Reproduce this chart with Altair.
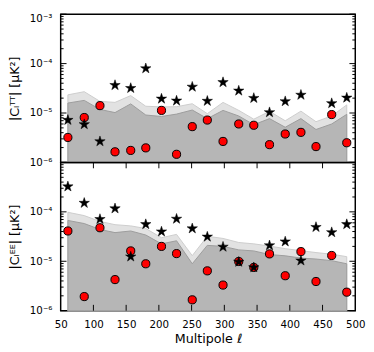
import altair as alt
import pandas as pd

# ---------------- data ----------------
ell = [61, 86, 110, 133, 157, 180, 204, 227, 251, 274, 298, 322, 345, 369, 393, 417, 440, 464, 487]

tt_obs = [3.2e-6, 8.1e-6, 1.41e-5, 1.64e-6, 1.75e-6, 1.97e-6, 1.13e-5, 1.46e-6, 5.3e-6, 7.2e-6,
          2.66e-6, 6.0e-6, 5.65e-6, 2.29e-6, 3.76e-6, 4.06e-6, 2.09e-6, 9.3e-6, 2.5e-6]
tt_model = [7.2e-6, 5.9e-6, 2.66e-6, 3.65e-5, 3.18e-5, 7.97e-5, 1.94e-5, 1.77e-5, 3.38e-5, 1.75e-5,
            4.18e-5, 2.82e-5, 2.0e-5, 1.03e-5, 1.72e-5, 2.32e-5, None, 1.57e-5, 2.03e-5]
tt_band_outer = [2.33e-5, 2.70e-5, 1.72e-5, 1.64e-5, 2.25e-5, 1.37e-5, 1.33e-5, 1.34e-5, 1.54e-5, 9.7e-6,
                 1.64e-5, 1.13e-5, 7.5e-6, 1.08e-5, 6.97e-6, 1.09e-5, 6.67e-6, 8.7e-6, 1.46e-5]
tt_band_inner = [1.59e-5, 1.80e-5, 1.18e-5, 1.02e-5, 1.53e-5, 9.1e-6, 8.5e-6, 9.5e-6, 1.15e-5, 7.7e-6,
                 1.13e-5, 8.7e-6, 5.8e-6, 7.7e-6, 5.15e-6, 7.7e-6, 4.64e-6, 6.0e-6, 9.4e-6]

ee_obs = [4.1e-5, 1.93e-6, 4.77e-5, 4.26e-6, 1.62e-5, 8.9e-6, 2.0e-5, 1.43e-5, 1.66e-6, 6.4e-6,
          3.3e-6, 9.9e-6, 7.5e-6, 1.41e-5, 5.1e-6, 1.57e-5, 3.9e-6, 1.31e-5, 2.37e-6]
ee_model = [3.25e-4, 1.51e-4, 7.1e-5, 1.17e-4, 1.24e-5, 5.6e-5, 3.98e-5, 7.2e-5, 4.6e-5, 3.13e-5,
            1.96e-5, 9.7e-6, 7.5e-6, 2.09e-5, 2.5e-5, 1.03e-5, 4.9e-5, 3.85e-5, 5.6e-5]
ee_band_outer = [9.8e-5, 8.4e-5, 6.4e-5, 5.5e-5, 5.2e-5, 4.6e-5, 3.0e-5, 3.5e-5, 1.3e-5, 3.2e-5,
                 2.9e-5, 2.4e-5, 2.25e-5, 2.03e-5, 1.8e-5, 1.64e-5, 1.5e-5, 1.39e-5, 1.24e-5]
ee_band_inner = [6.7e-5, 5.8e-5, 4.4e-5, 3.8e-5, 4.1e-5, 3.4e-5, 2.25e-5, 2.6e-5, 8.9e-6, 2.1e-5,
                 2.0e-5, 1.7e-5, 1.62e-5, 1.37e-5, 1.29e-5, 1.16e-5, 1.11e-5, 1.03e-5, 8.9e-6]

y_floor = 1e-6  # lower edge of the shaded bands (bottom of the log axis)

x_tick_values = [50, 100, 150, 200, 250, 300, 350, 400, 450, 500]
x_inner_ticks = [100, 150, 200, 250, 300, 350, 400, 450]
y_major = [1e-6, 1e-5, 1e-4, 1e-3]
y_minor = [m * 10.0 ** k for k in (-6, -5, -4) for m in range(2, 10)]

# ---------------- style ----------------
W, H = 302, 152
FONT = "DejaVu Sans"
STAR = ("M0,-1L0.2245,-0.309L0.9511,-0.309L0.3633,0.118L0.5878,0.809L0,0.382"
        "L-0.5878,0.809L-0.3633,0.118L-0.9511,-0.309L-0.2245,-0.309Z")
X_TITLE = "Multipole \u2113"


def panel(obs, model, outer, inner, ytitle, labels, top_flush, show_x):
    df = pd.DataFrame({"ell": ell, "obs": obs, "model": model, "outer": outer, "inner": inner,
                       "floor": [y_floor] * len(ell)})
    xscale = alt.Scale(domain=[50, 500], nice=False, zero=False)
    yscale = alt.Scale(type="log", domain=[1e-6, 1e-3], nice=False)
    if show_x:
        xaxis = alt.Axis(values=x_tick_values, ticks=False, tickSize=0, domain=False, grid=False,
                         labelFlush=False, labelOverlap=False, labelPadding=9, labelFontSize=10.5,
                         titleFontSize=13, titlePadding=3)
    else:
        xaxis = None
    lab_expr = "[" + ",".join("'%s'" % s for s in labels) + "][round(log(datum.value)/LN10)+6]"
    yaxis_kw = dict(values=y_major, labelExpr=lab_expr, ticks=False, tickSize=0, domain=False,
                    grid=False, labelOverlap=False, labelPadding=9, labelFontSize=10.5,
                    titleFontSize=13, titlePadding=8)
    if top_flush:
        yaxis_kw["labelBaseline"] = {"condition": {"test": "datum.value > 0.0005", "value": "top"},
                                     "value": "middle"}
    yaxis = alt.Axis(**yaxis_kw)

    def X(f):
        return alt.X(f, type="quantitative", scale=xscale, axis=xaxis, title=X_TITLE)

    def Y(f):
        return alt.Y(f, type="quantitative", scale=yscale, axis=yaxis, title=ytitle)

    base = alt.Chart(df)
    light = base.mark_area(color="#e2e2e2", fillOpacity=1, stroke="#cdcdcd", strokeWidth=1).encode(
        x=X("ell"), y=Y("outer"), y2="floor:Q")
    dark = base.mark_area(color="#b6b6b6", fillOpacity=1, stroke="#9c9c9c", strokeWidth=1).encode(
        x=X("ell"), y=Y("inner"), y2="floor:Q")
    circ = base.mark_point(shape="circle", filled=True, fill="#ff0000", stroke="black",
                           strokeWidth=1, size=70, opacity=1).encode(x=X("ell"), y=Y("obs"))
    stars = base.transform_filter("isValid(datum.model)").mark_point(
        shape=STAR, filled=True, fill="black", stroke="black", strokeWidth=0.5, size=125,
        opacity=1).encode(x=X("ell"), y=Y("model"))

    layers = [light, dark, circ, stars]
    ymaj = alt.Chart(pd.DataFrame({"v": y_major}))
    ymin = alt.Chart(pd.DataFrame({"v": y_minor}))
    for src, ln in ((ymaj, 6), (ymin, 3)):
        layers.append(src.mark_rule(color="black", strokeWidth=1).encode(
            y=Y("v"), x=alt.value(0), x2=alt.value(ln)))
        layers.append(src.mark_rule(color="black", strokeWidth=1).encode(
            y=Y("v"), x=alt.value(W), x2=alt.value(W - ln)))
    if show_x:
        xt = alt.Chart(pd.DataFrame({"v": x_inner_ticks}))
        layers.append(xt.mark_rule(color="black", strokeWidth=1).encode(
            x=X("v"), y=alt.value(H), y2=alt.value(H - 6)))
        layers.append(xt.mark_rule(color="black", strokeWidth=1).encode(
            x=X("v"), y=alt.value(0), y2=alt.value(6)))
    return alt.layer(*layers).properties(width=W, height=H)


top = panel(tt_obs, tt_model, tt_band_outer, tt_band_inner,
            "|C\u2097\u1d40\u1d40| [\u03bcK\u00b2]",
            ["10\u207b\u2076", "10\u207b\u2075", "10\u207b\u2074", "10\u207b\u00b3"], True, False)
bottom = panel(ee_obs, ee_model, ee_band_outer, ee_band_inner,
               "|C\u2097\u1d31\u1d31| [\u03bcK\u00b2]",
               ["10\u207b\u2076", "10\u207b\u2075", "10\u207b\u2074", ""], False, True)

chart = alt.vconcat(top, bottom, spacing=0, bounds="flush").properties(
    padding=0, background="white"
).configure_view(stroke="black", strokeWidth=1.5).configure_axis(
    labelFont=FONT, titleFont=FONT, titleFontWeight="normal", labelColor="black", titleColor="black"
)

chart.save("out.html", embed_options={"renderer": "svg", "actions": False})
